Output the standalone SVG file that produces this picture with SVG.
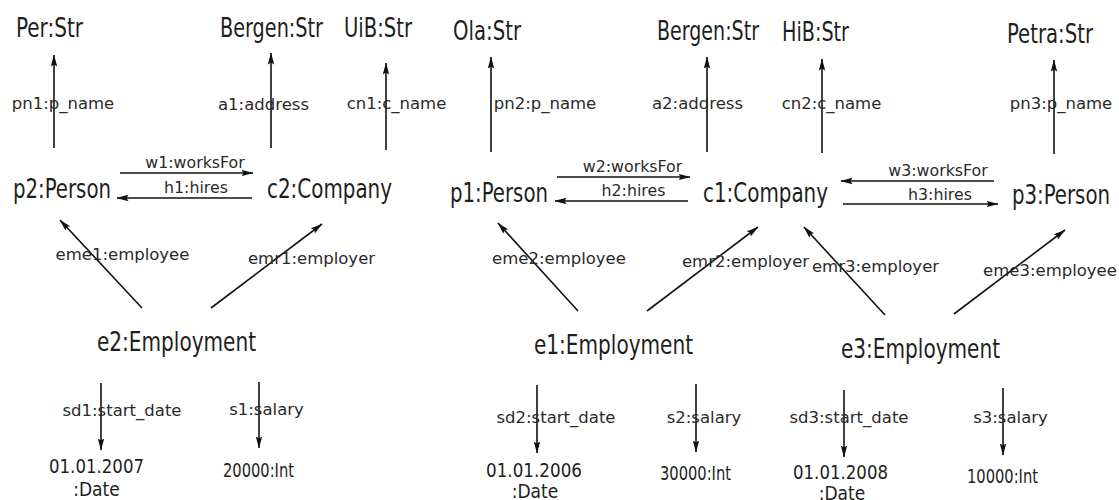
<svg xmlns="http://www.w3.org/2000/svg" width="1119" height="500" viewBox="0 0 1119 500">
  <style>
    .node { font-family: "DejaVu Sans Condensed", "DejaVu Sans", sans-serif; font-size: 27px; fill: #1e1e1e; text-anchor: middle; }
    .val { font-family: "DejaVu Sans Condensed", "DejaVu Sans", sans-serif; font-size: 19px; fill: #1e1e1e; text-anchor: middle; }
    .int { font-family: "DejaVu Sans Condensed", "DejaVu Sans", sans-serif; font-size: 19.5px; fill: #1e1e1e; text-anchor: middle; }
    .lbl { font-family: "DejaVu Sans", sans-serif; font-size: 16.5px; fill: #2a2a2a; text-anchor: middle; }
    .rel { font-family: "DejaVu Sans", sans-serif; font-size: 15.8px; fill: #2a2a2a; text-anchor: middle; }
    .edge { stroke: #111; stroke-width: 1.6; fill: none; marker-end: url(#head); }
  </style>
  <defs>
    <marker id="head" markerUnits="userSpaceOnUse" viewBox="0 0 12 8" refX="11.5" refY="4" markerWidth="12" markerHeight="8" orient="auto">
      <path d="M0,0.8 L12,4 L0,7.2 L2,4 z" fill="#111"/>
    </marker>
  </defs>
  <rect width="1119" height="500" fill="#ffffff"/>

  <!-- connectors -->
  <g id="connectors">
    <!-- attribute edges -->
    <line class="edge" x1="54" y1="148" x2="54" y2="55"/>
    <line class="edge" x1="271" y1="148" x2="271" y2="53"/>
    <line class="edge" x1="386" y1="150" x2="386" y2="63"/>
    <line class="edge" x1="491" y1="152" x2="491" y2="57"/>
    <line class="edge" x1="707" y1="152" x2="707" y2="57"/>
    <line class="edge" x1="822" y1="153" x2="822" y2="59"/>
    <line class="edge" x1="1054" y1="154" x2="1054" y2="60"/>
    <!-- worksFor / hires -->
    <line class="edge" x1="120" y1="173" x2="253" y2="173"/>
    <line class="edge" x1="252" y1="198" x2="117" y2="198"/>
    <line class="edge" x1="557" y1="177" x2="690" y2="177"/>
    <line class="edge" x1="688" y1="201" x2="555" y2="201"/>
    <line class="edge" x1="994" y1="181" x2="841" y2="181"/>
    <line class="edge" x1="843" y1="204" x2="998" y2="204"/>
    <!-- employee / employer -->
    <line class="edge" x1="142" y1="308" x2="60" y2="220"/>
    <line class="edge" x1="211" y1="308" x2="322" y2="224"/>
    <line class="edge" x1="578" y1="311" x2="498" y2="223"/>
    <line class="edge" x1="647" y1="311" x2="758" y2="227"/>
    <line class="edge" x1="885" y1="315" x2="804" y2="227"/>
    <line class="edge" x1="954" y1="314" x2="1065" y2="230"/>
    <!-- start_date / salary -->
    <line class="edge" x1="101" y1="383" x2="101" y2="450"/>
    <line class="edge" x1="259" y1="382" x2="259" y2="448"/>
    <line class="edge" x1="537" y1="385" x2="537" y2="453"/>
    <line class="edge" x1="696" y1="384" x2="696" y2="452"/>
    <line class="edge" x1="844" y1="390" x2="844" y2="457"/>
    <line class="edge" x1="1003" y1="388" x2="1003" y2="455"/>

    <!-- edge labels -->
    <text class="lbl" x="63" y="109">pn1:p_name</text>
    <text class="lbl" x="263.5" y="110">a1:address</text>
    <text class="lbl" x="396.5" y="109">cn1:c_name</text>
    <text class="lbl" x="545" y="109">pn2:p_name</text>
    <text class="lbl" x="697.5" y="109">a2:address</text>
    <text class="lbl" x="831.5" y="109">cn2:c_name</text>
    <text class="lbl" x="1061" y="109">pn3:p_name</text>

    <text class="rel" x="195" y="168">w1:worksFor</text>
    <text class="rel" x="196" y="193">h1:hires</text>
    <text class="rel" x="632.5" y="172">w2:worksFor</text>
    <text class="rel" x="633.5" y="196">h2:hires</text>
    <text class="rel" x="938" y="176">w3:worksFor</text>
    <text class="rel" x="940" y="200">h3:hires</text>

    <text class="lbl" x="122.5" y="260">eme1:employee</text>
    <text class="lbl" x="311.5" y="264">emr1:employer</text>
    <text class="lbl" x="559" y="264">eme2:employee</text>
    <text class="lbl" x="745.5" y="267">emr2:employer</text>
    <text class="lbl" x="875.5" y="272">emr3:employer</text>
    <text class="lbl" x="1050" y="276">eme3:employee</text>

    <text class="lbl" x="122" y="416">sd1:start_date</text>
    <text class="lbl" x="266.5" y="415">s1:salary</text>
    <text class="lbl" x="556" y="423">sd2:start_date</text>
    <text class="lbl" x="704" y="423">s2:salary</text>
    <text class="lbl" x="849" y="423">sd3:start_date</text>
    <text class="lbl" x="1010.5" y="423">s3:salary</text>
  </g>

  <!-- string values -->
  <g id="per_str"><text class="node" x="49.5" y="37" textLength="67" lengthAdjust="spacingAndGlyphs">Per:Str</text></g>
  <g id="bergen_str_1"><text class="node" x="271.5" y="37" textLength="103" lengthAdjust="spacingAndGlyphs">Bergen:Str</text></g>
  <g id="uib_str"><text class="node" x="378" y="37" textLength="68" lengthAdjust="spacingAndGlyphs">UiB:Str</text></g>
  <g id="ola_str"><text class="node" x="487" y="40" textLength="68" lengthAdjust="spacingAndGlyphs">Ola:Str</text></g>
  <g id="bergen_str_2"><text class="node" x="708" y="40" textLength="102" lengthAdjust="spacingAndGlyphs">Bergen:Str</text></g>
  <g id="hib_str"><text class="node" x="815.5" y="41" textLength="67" lengthAdjust="spacingAndGlyphs">HiB:Str</text></g>
  <g id="petra_str"><text class="node" x="1050" y="43" textLength="86" lengthAdjust="spacingAndGlyphs">Petra:Str</text></g>

  <!-- persons and companies -->
  <g id="p2"><text class="node" x="62" y="198" textLength="98" lengthAdjust="spacingAndGlyphs">p2:Person</text></g>
  <g id="c2"><text class="node" x="329.5" y="198" textLength="125" lengthAdjust="spacingAndGlyphs">c2:Company</text></g>
  <g id="p1"><text class="node" x="499" y="202" textLength="98" lengthAdjust="spacingAndGlyphs">p1:Person</text></g>
  <g id="c1"><text class="node" x="765.5" y="202" textLength="125" lengthAdjust="spacingAndGlyphs">c1:Company</text></g>
  <g id="p3"><text class="node" x="1061" y="204" textLength="98" lengthAdjust="spacingAndGlyphs">p3:Person</text></g>

  <!-- employments -->
  <g id="e2"><text class="node" x="176.5" y="351" textLength="159" lengthAdjust="spacingAndGlyphs">e2:Employment</text></g>
  <g id="e1"><text class="node" x="613.5" y="354" textLength="159" lengthAdjust="spacingAndGlyphs">e1:Employment</text></g>
  <g id="e3"><text class="node" x="920.5" y="358" textLength="159" lengthAdjust="spacingAndGlyphs">e3:Employment</text></g>

  <!-- dates and salaries -->
  <g id="date_2007"><text class="val" x="96.5" y="473" textLength="95" lengthAdjust="spacingAndGlyphs">01.01.2007</text><text class="val" x="96.5" y="496">:Date</text></g>
  <g id="int_20000"><text class="int" x="258.5" y="477" textLength="71" lengthAdjust="spacingAndGlyphs">20000:Int</text></g>
  <g id="date_2006"><text class="val" x="534" y="477" textLength="96" lengthAdjust="spacingAndGlyphs">01.01.2006</text><text class="val" x="535" y="498">:Date</text></g>
  <g id="int_30000"><text class="int" x="695.5" y="480" textLength="71" lengthAdjust="spacingAndGlyphs">30000:Int</text></g>
  <g id="date_2008"><text class="val" x="840.5" y="479" textLength="95" lengthAdjust="spacingAndGlyphs">01.01.2008</text><text class="val" x="842" y="500">:Date</text></g>
  <g id="int_10000"><text class="int" x="1002.5" y="483" textLength="71" lengthAdjust="spacingAndGlyphs">10000:Int</text></g>
</svg>
